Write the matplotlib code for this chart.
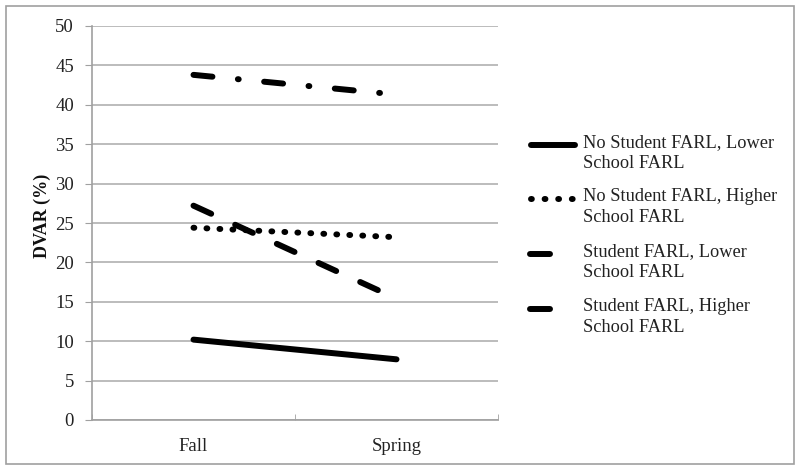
import matplotlib
matplotlib.use("Agg")
import matplotlib.pyplot as plt
from matplotlib.lines import Line2D
from matplotlib.patches import Rectangle

plt.rcParams['font.family'] = ['Liberation Serif', 'DejaVu Serif']
plt.rcParams['lines.scale_dashes'] = False

categories = ["Fall", "Spring"]
series_labels = [
    "No Student FARL, Lower\nSchool FARL",
    "No Student FARL, Higher\nSchool FARL",
    "Student FARL, Lower\nSchool FARL",
    "Student FARL, Higher\nSchool FARL",
]
no_lower = [10.2, 7.7]
no_higher = [24.4, 23.2]
stu_lower = [27.2, 15.4]
stu_higher = [43.8, 41.3]
series_values = [no_lower, no_higher, stu_lower, stu_higher]
yticks = [0, 5, 10, 15, 20, 25, 30, 35, 40, 45, 50]

lw = 4.3
styles = [
    dict(linestyle='-'),
    dict(linestyle=(0, (0.6, 8.76))),
    dict(linestyle=(0, (14.0, 19.0))),
    dict(linestyle=(0, (13.7, 18.4, 0.6, 18.4))),
]
# legend sample styles / extents (px)
legend_styles = [
    dict(linestyle='-'),
    dict(linestyle=(0, (0.6, 9.2))),
    dict(linestyle='-'),
    dict(linestyle='-'),
]
legend_x = [(531, 575), (531, 573), (530, 550), (530, 550)]

fig = plt.figure(figsize=(8, 4.71), dpi=100)
ax = fig.add_axes([92/800, 1-420/471, (498-92)/800, (420-26)/471])

x = [0.5, 1.5]
for vals, st in zip(series_values, styles):
    ax.plot(x, vals, color='black', lw=lw, solid_capstyle='round',
            dash_capstyle='round', **st)

ax.set_xlim(0, 2)
ax.set_ylim(0, 50)
ax.set_yticks(yticks)
ax.set_xticks(x)
ax.set_xticklabels(categories)
ax.set_xticks([0, 1, 2], minor=True)
ax.tick_params(axis='x', which='major', length=0, labelsize=13.5, pad=13)
ax.tick_params(axis='x', which='minor', length=4, direction='in', color='#a0a0a0')
ax.tick_params(axis='y', length=5, color='#a0a0a0', labelsize=13.5, pad=8)
for t in ax.get_yticklabels() + ax.get_xticklabels():
    t.set_color('#222222')
ax.yaxis.grid(True, color='#b0b0b0', lw=1.2)
ax.set_axisbelow(True)
for s in ['top', 'right']:
    ax.spines[s].set_visible(False)
for s in ['left', 'bottom']:
    ax.spines[s].set_color('#a0a0a0')
    ax.spines[s].set_linewidth(1.2)

fig.text(42/800, 1-216/471, "DVAR (%)", rotation=90, ha='center', va='center',
         fontsize=13, fontweight='bold', color='#111111')

# legend
ys = [145, 199, 254, 309]
for lab, st, yy, (x0, x1) in zip(series_labels, legend_styles, ys, legend_x):
    yf = 1 - yy/471
    fig.add_artist(Line2D([x0/800, x1/800], [yf, yf], color='black', lw=lw,
                          solid_capstyle='round', dash_capstyle='round',
                          transform=fig.transFigure, **st))
    fig.text(583/800, yf + 11/471, lab, ha='left', va='top', fontsize=13.2,
             linespacing=1.3, color='#222222')

fig.add_artist(Rectangle((6/800, 1-464/471), 788/800, 458/471, fill=False,
                         edgecolor='#a0a0a0', lw=1.2, transform=fig.transFigure))

fig.savefig("out.png", dpi=100)
